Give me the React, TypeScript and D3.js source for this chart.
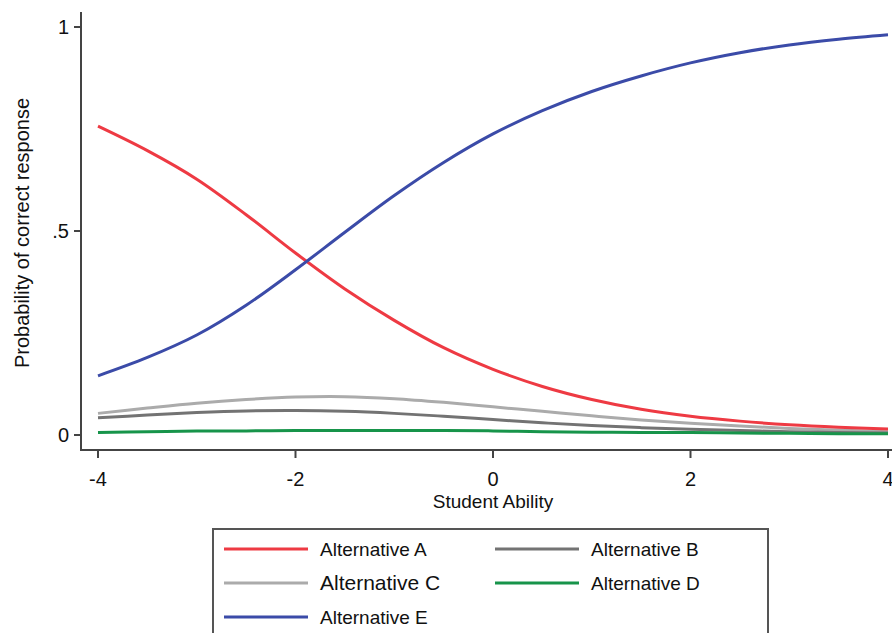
import React from 'react';
import * as d3 from 'd3';

// Student ability grid (0.5 steps) and probability curves
const ability = [-4, -3.5, -3, -2.5, -2, -1.5, -1, -0.5, 0, 0.5, 1, 1.5, 2, 2.5, 3, 3.5, 4];
const altA = [0.757, 0.697, 0.627, 0.540, 0.446, 0.358, 0.281, 0.214, 0.161, 0.119, 0.087, 0.063, 0.046, 0.034, 0.025, 0.019, 0.015];
const altB = [0.042, 0.049, 0.055, 0.059, 0.060, 0.058, 0.053, 0.046, 0.038, 0.030, 0.023, 0.018, 0.014, 0.011, 0.008, 0.006, 0.005];
const altC = [0.053, 0.066, 0.078, 0.087, 0.093, 0.094, 0.089, 0.080, 0.069, 0.058, 0.047, 0.037, 0.029, 0.022, 0.016, 0.012, 0.008];
const altD = [0.006, 0.008, 0.010, 0.010, 0.011, 0.011, 0.011, 0.011, 0.010, 0.008, 0.007, 0.006, 0.006, 0.005, 0.004, 0.003, 0.003];
const altE = [0.145, 0.190, 0.245, 0.318, 0.405, 0.497, 0.587, 0.668, 0.738, 0.795, 0.842, 0.880, 0.912, 0.937, 0.956, 0.970, 0.981];

const xTicks = [-4, -2, 0, 2, 4];
const yTicks = [0, 0.5, 1];
const yTickLabels = ['0', '.5', '1'];

const series = [
  { name: 'Alternative A', values: altA, color: '#ee3a43' },
  { name: 'Alternative B', values: altB, color: '#737373' },
  { name: 'Alternative C', values: altC, color: '#ababab' },
  { name: 'Alternative D', values: altD, color: '#17944a' },
  { name: 'Alternative E', values: altE, color: '#3b4ba8' },
];
// draw order: greys & green first, then red and blue on top
const drawOrder = ['Alternative C', 'Alternative B', 'Alternative D', 'Alternative A', 'Alternative E'];

const W = 892;
const H = 633;
const font = '"Liberation Sans", Arial, sans-serif';

export default function App() {
  const x = d3.scaleLinear().domain([-4, 4]).range([98, 888]);
  const y = d3.scaleLinear().domain([0, 1]).range([435, 27]);
  const axisX = 81;
  const axisY = 450;

  const line = d3
    .line<number>()
    .x((_, i) => x(ability[i]))
    .y((d) => y(d))
    .curve(d3.curveCatmullRom.alpha(0.5));

  const legendX = 213;
  const legendY = 529;
  const legendItems = [
    { s: series[0], col: 0, row: 0, size: 19 },
    { s: series[1], col: 1, row: 0, size: 19 },
    { s: series[2], col: 0, row: 1, size: 21 },
    { s: series[3], col: 1, row: 1, size: 19 },
    { s: series[4], col: 0, row: 2, size: 19 },
  ];

  return (
    <svg
      width={W}
      height={H}
      style={{ position: 'absolute', left: 0, top: 0, background: '#fff' }}
      fontFamily={font}
    >
      {/* axes */}
      <line x1={axisX} x2={axisX} y1={12} y2={axisY + 1} stroke="#444" strokeWidth={2} />
      <line x1={axisX} x2={W} y1={axisY} y2={axisY} stroke="#444" strokeWidth={2} />
      {yTicks.map((t, i) => (
        <g key={t}>
          <line x1={axisX - 7} x2={axisX} y1={y(t)} y2={y(t)} stroke="#444" strokeWidth={2} />
          <text x={axisX - 12} y={y(t)} dy="0.35em" textAnchor="end" fontSize={20} fill="#111">
            {yTickLabels[i]}
          </text>
        </g>
      ))}
      {xTicks.map((t) => (
        <g key={t}>
          <line x1={x(t)} x2={x(t)} y1={axisY} y2={axisY + 8} stroke="#444" strokeWidth={2} />
          <text x={x(t)} y={486} textAnchor="middle" fontSize={20} fill="#111">
            {t}
          </text>
        </g>
      ))}
      <text x={493} y={508} textAnchor="middle" fontSize={19} fill="#111">
        Student Ability
      </text>
      <text
        transform={`translate(29,233) rotate(-90)`}
        textAnchor="middle"
        fontSize={20}
        fill="#111"
      >
        Probability of correct response
      </text>

      {/* curves */}
      {drawOrder.map((n) => {
        const s = series.find((d) => d.name === n)!;
        return (
          <path key={n} d={line(s.values) || ''} fill="none" stroke={s.color} strokeWidth={3} />
        );
      })}

      {/* legend */}
      <rect x={legendX} y={legendY} width={555} height={120} fill="none" stroke="#555" strokeWidth={2} />
      {legendItems.map(({ s, col, row, size }) => {
        const lx = legendX + 11 + col * 271;
        const ly = 549 + row * 34;
        return (
          <g key={s.name}>
            <line x1={lx} x2={lx + 84} y1={ly} y2={ly} stroke={s.color} strokeWidth={3} />
            <text x={lx + 96} y={ly} dy="0.35em" fontSize={size} fill="#111">
              {s.name}
            </text>
          </g>
        );
      })}
    </svg>
  );
}
